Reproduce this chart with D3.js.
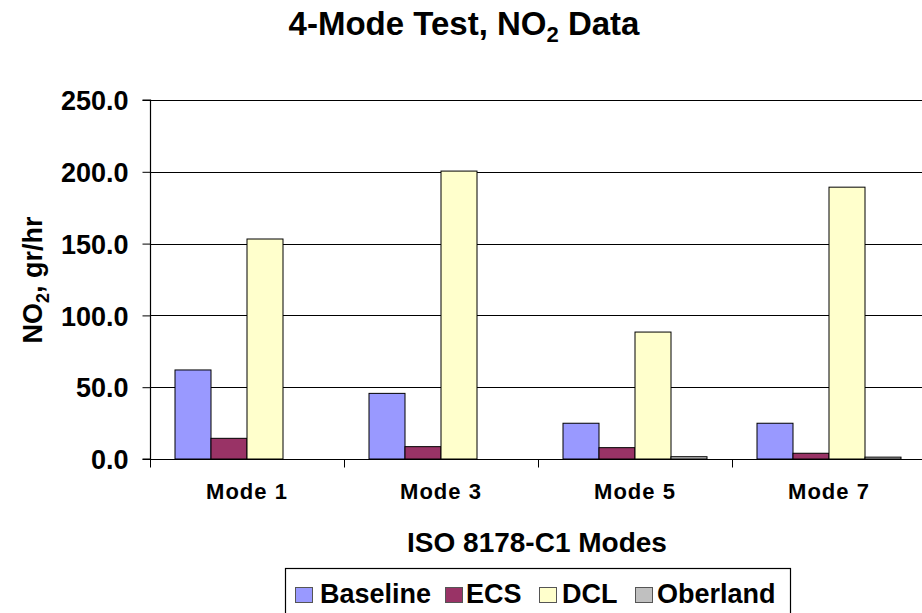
<!DOCTYPE html>
<html>
<head>
<meta charset="utf-8">
<script src="https://cdn.jsdelivr.net/npm/d3@7/dist/d3.min.js"></script>
<style>
  body { margin: 0; background: #fff; }
  svg { display: block; font-family: "Liberation Sans", Arial, sans-serif; }
</style>
</head>
<body>
<svg id="chart" width="922" height="613"></svg>
<script>
// NO2 emissions per test mode, grams per hour
const modes = ["Mode 1", "Mode 3", "Mode 5", "Mode 7"];
const seriesNames = ["Baseline", "ECS", "DCL", "Oberland"];
const baseline = [62.0, 45.7, 24.9, 24.9];
const ecs = [14.4, 8.6, 7.9, 4.0];
const dcl = [153.2, 200.5, 88.4, 189.3];
const oberland = [0, 0, 1.6, 1.3];
const yTicks = [0, 50, 100, 150, 200, 250];
const colors = ["#9999ff", "#993366", "#ffffcc", "#c0c0c0"];

const seriesValues = [baseline, ecs, dcl, oberland];

const svg = d3.select("#chart");
const margin = { left: 150, top: 100, plotW: 776, plotH: 359 };

const x = d3.scaleBand().domain(modes).range([margin.left, margin.left + margin.plotW]);
// 25px gap on each side of the bar group inside every category band
const xInner = d3.scaleBand().domain(seriesNames).range([25, x.bandwidth() - 25]);
const y = d3.scaleLinear().domain([0, 250]).range([margin.top + margin.plotH, margin.top]);

// horizontal gridlines
svg.append("g")
  .selectAll("line")
  .data(yTicks.slice(1))
  .join("line")
  .attr("x1", margin.left).attr("x2", margin.left + margin.plotW)
  .attr("y1", d => Math.round(y(d)) + 0.5).attr("y2", d => Math.round(y(d)) + 0.5)
  .attr("stroke", "#000").attr("stroke-width", 1.2);

// bars
const groups = svg.append("g")
  .selectAll("g")
  .data(modes)
  .join("g")
  .attr("transform", d => `translate(${x(d)},0)`);

groups.selectAll("rect")
  .data((m, i) => seriesNames.map((s, j) => ({ s, j, v: seriesValues[j][i] })))
  .join("rect")
  .filter(d => d.v > 0)
  .attr("x", d => xInner(d.s))
  .attr("width", xInner.bandwidth())
  .attr("y", d => y(d.v))
  .attr("height", d => y(0) - y(d.v))
  .attr("fill", d => colors[d.j])
  .attr("stroke", "#000")
  .attr("stroke-width", 1);

// y axis
const yAxis = d3.axisLeft(y).tickValues(yTicks).tickFormat(d3.format(".1f")).tickSize(8).tickPadding(14);
const yg = svg.append("g").attr("transform", `translate(${margin.left + 0.5},0)`).call(yAxis);
yg.select(".domain").attr("stroke", "#000").attr("stroke-width", 1.2).attr("d", `M-8,${y(250)}H0V${y(0)}H-8`);
yg.selectAll(".tick line").attr("stroke", "#000");
yg.selectAll("text").attr("font-size", 27).attr("font-weight", "bold").attr("fill", "#000")
  .attr("font-family", "Liberation Sans, Arial, sans-serif").attr("dy", "0.36em");

// x axis
const xAxis = d3.axisBottom(x).tickSize(0).tickPadding(24);
const xg = svg.append("g").attr("transform", `translate(0,${y(0) + 0.5})`).call(xAxis);
xg.select(".domain").attr("stroke", "#000").attr("stroke-width", 1.2).attr("d", `M${margin.left},0H${margin.left + margin.plotW}`);
xg.selectAll("text").attr("font-size", 22).attr("font-weight", "bold").attr("fill", "#000")
  .attr("letter-spacing", 1).attr("font-family", "Liberation Sans, Arial, sans-serif");
// category separator ticks
xg.append("g").selectAll("line")
  .data(d3.range(modes.length + 1))
  .join("line")
  .attr("x1", i => margin.left + i * x.bandwidth() + 0.5)
  .attr("x2", i => margin.left + i * x.bandwidth() + 0.5)
  .attr("y1", 0).attr("y2", 8)
  .attr("stroke", "#000");

// title
const title = svg.append("text").attr("x", 464).attr("y", 35).attr("text-anchor", "middle")
  .attr("font-size", 33).attr("font-weight", "bold");
title.append("tspan").text("4-Mode Test, NO");
title.append("tspan").text("2").attr("font-size", 22).attr("dy", 7);
title.append("tspan").text(" Data").attr("dy", -7);

// y axis title
const yt = svg.append("text").attr("transform", "translate(42,280) rotate(-90)").attr("text-anchor", "middle")
  .attr("font-size", 27).attr("font-weight", "bold");
yt.append("tspan").text("NO");
yt.append("tspan").text("2").attr("font-size", 18).attr("dy", 7);
yt.append("tspan").text(", gr/hr").attr("dy", -7);

// x axis title
svg.append("text").attr("x", 537).attr("y", 552).attr("text-anchor", "middle")
  .attr("font-size", 28).attr("font-weight", "bold").text("ISO 8178-C1 Modes");

// legend
const legend = svg.append("g");
legend.append("rect").attr("x", 285.5).attr("y", 568.5).attr("width", 505).attr("height", 46)
  .attr("fill", "#fff").attr("stroke", "#000").attr("stroke-width", 1.2);
const swatchX = [295, 445, 539, 635];
const labelX = [320, 466, 562, 657];
seriesNames.forEach((s, i) => {
  legend.append("rect").attr("x", swatchX[i] + 0.5).attr("y", 587.5).attr("width", 17).attr("height", 15)
    .attr("fill", colors[i]).attr("stroke", "#555").attr("stroke-width", 1);
  legend.append("text").attr("x", labelX[i]).attr("y", 603).attr("font-size", 27)
    .attr("font-weight", "bold").text(s);
});
</script>
</body>
</html>
